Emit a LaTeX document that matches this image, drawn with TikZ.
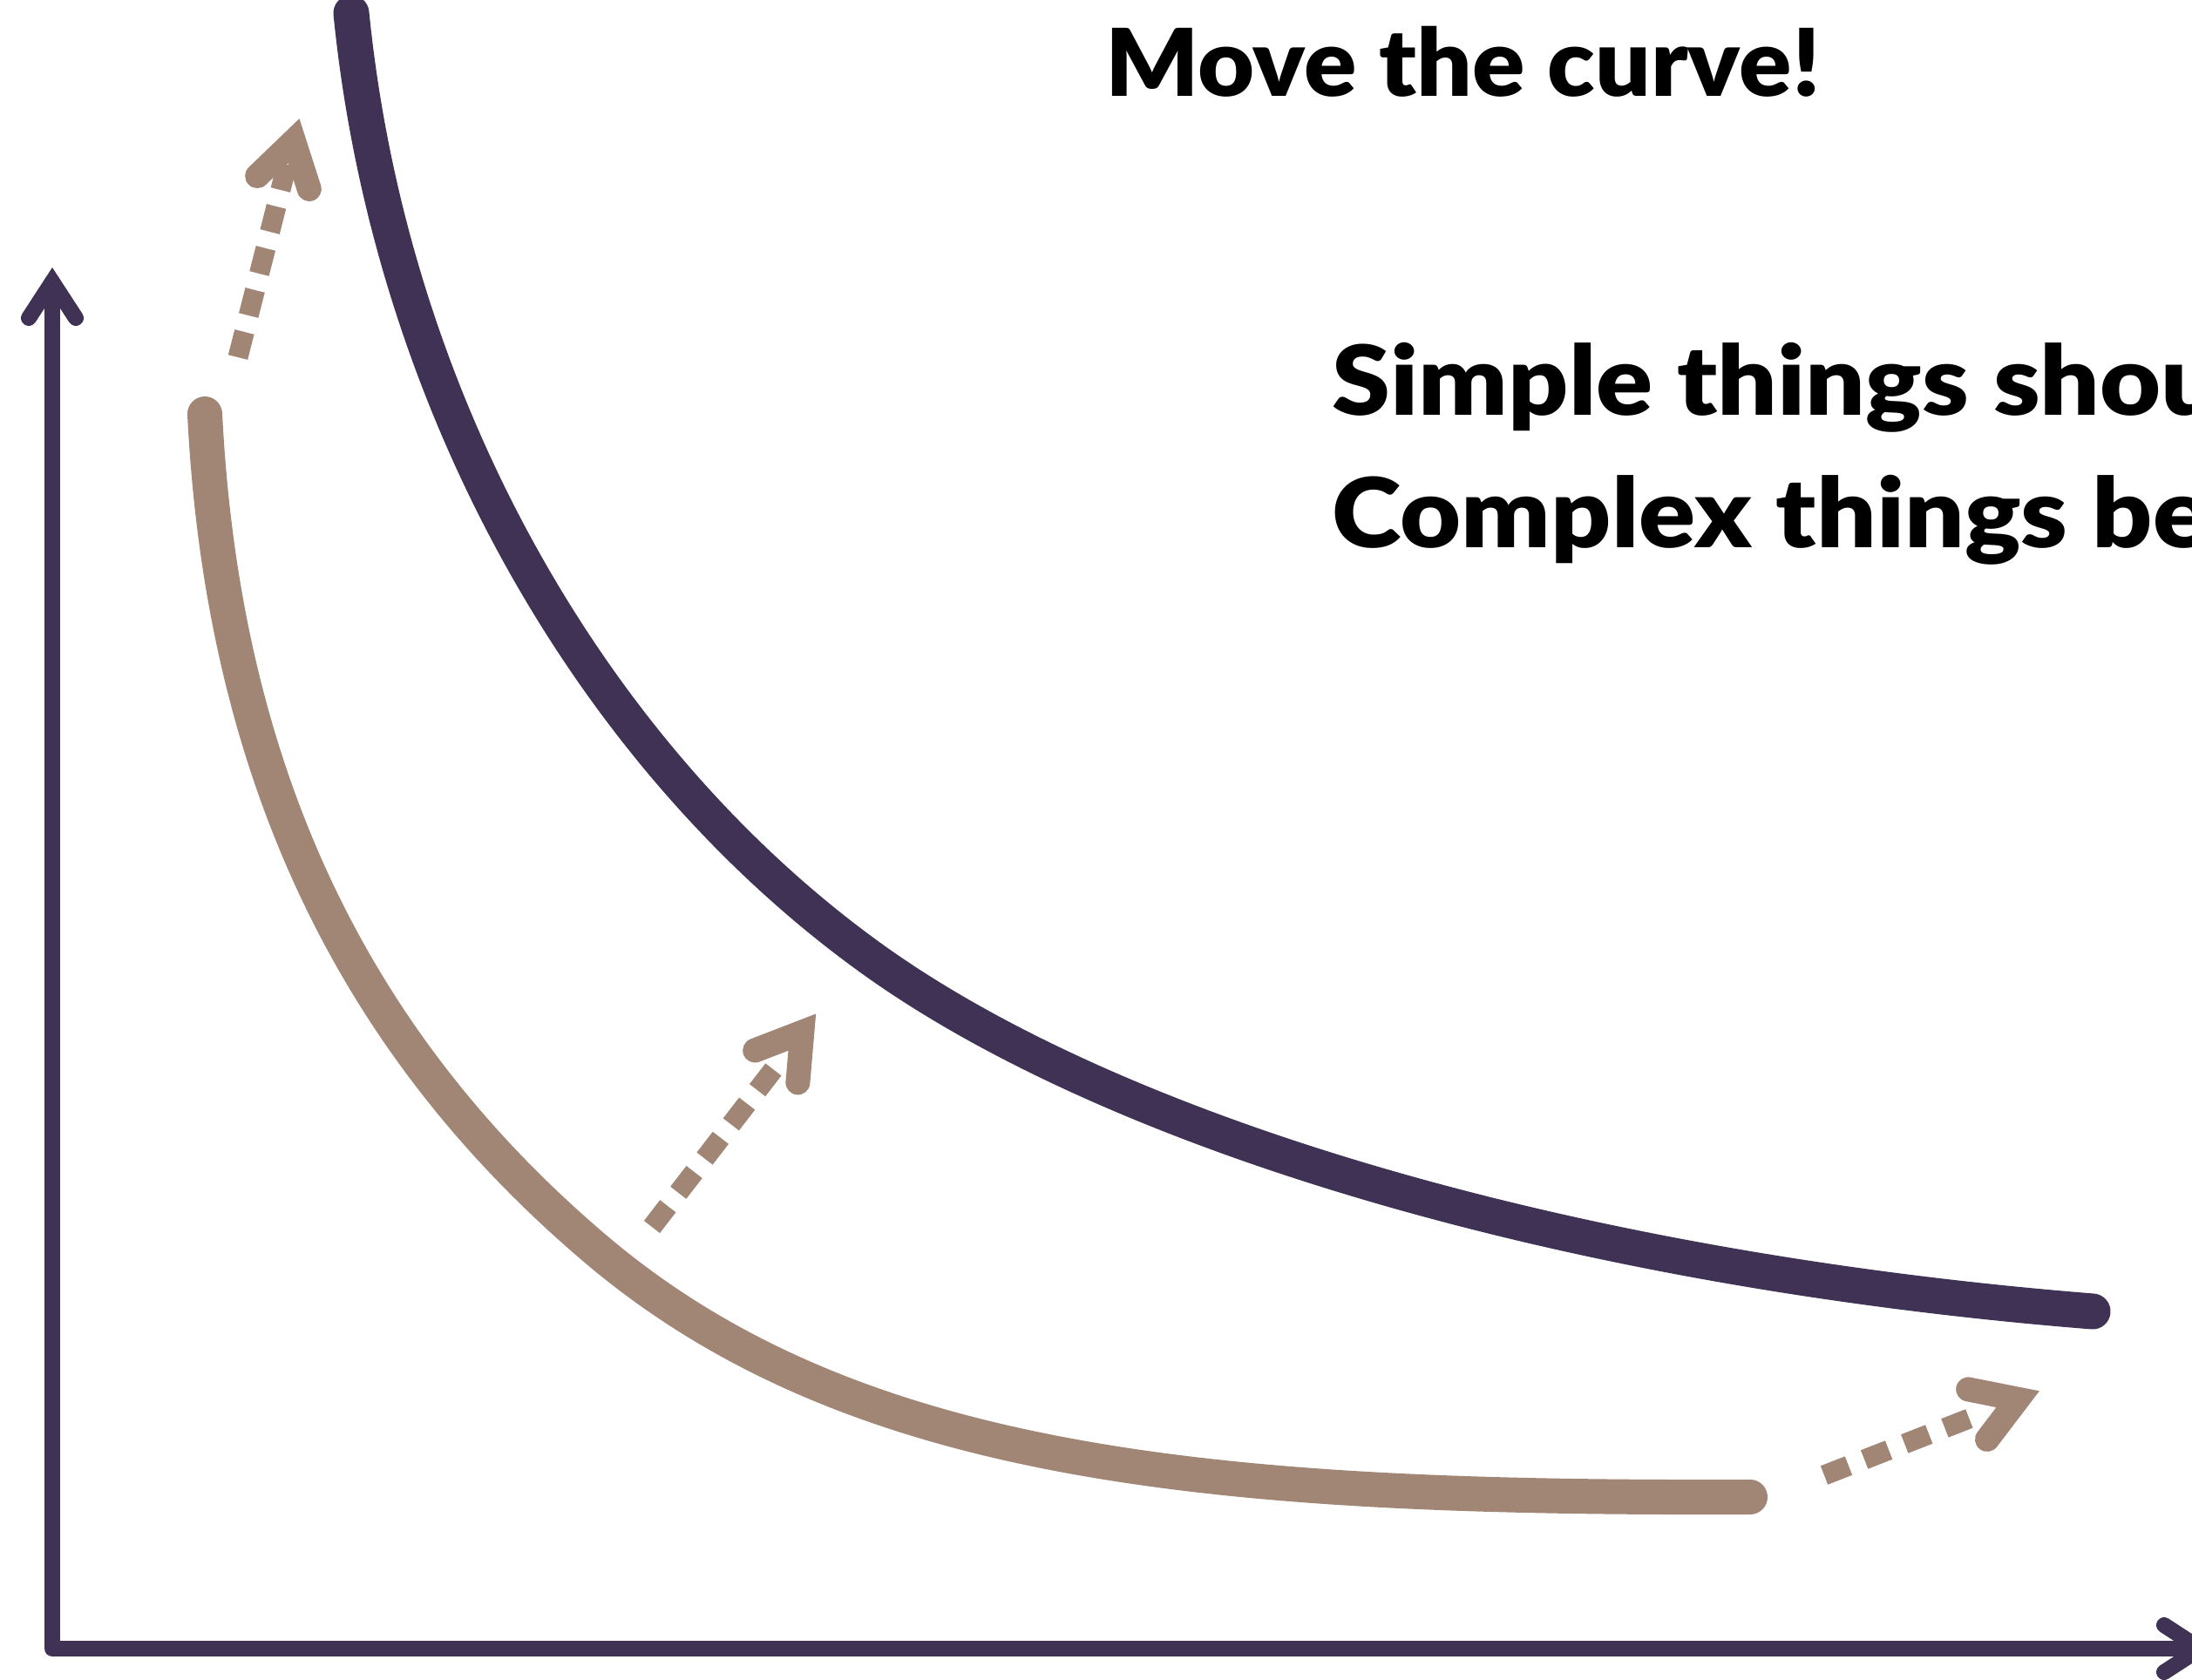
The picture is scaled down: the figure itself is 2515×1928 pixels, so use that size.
\documentclass[tikz,border=0pt]{standalone}
\usepackage{fontspec}
\setmainfont{Lato}
\newfontfamily\headfont{Lato Black}[FakeStretch=1.09]
\newfontfamily\titlefont{Lato Black}[FakeStretch=1.045]
\definecolor{axiscol}{HTML}{3F3255}
\definecolor{browncol}{HTML}{A18676}
\tikzset{
  axisline/.style={draw=axiscol, line width=0.18cm, line cap=round, line join=round},
  axishead/.style={draw=axiscol, line width=0.18cm, line cap=round, line join=miter},
  darkcurve/.style={draw=axiscol, line width=0.41cm, line cap=round},
  lightcurve/.style={draw=browncol, line width=0.40cm, line cap=round},
  dotline/.style={draw=browncol, line width=0.23cm, dash pattern=on 0.3cm off 0.195cm},
  dothead/.style={draw=browncol, line width=0.28cm, line cap=round, line join=miter},
  title/.style={anchor=base west, inner sep=0pt, font=\fontsize{30.5}{36}\titlefont},
  quote/.style={anchor=base west, inner sep=0pt, font=\fontsize{31.5}{43}\headfont}
}
\begin{document}
\begin{tikzpicture}[x=0.01cm,y=-0.01cm]
\useasboundingbox (0,0) rectangle (2515,1928);
\clip (0,0) rectangle (2515,1928);
% axes
\coordinate (yv) at (60,323.5);
\coordinate (corner) at (60,1892);
\coordinate (xv) at (2524.5,1892);
\draw[axisline] (yv) -- (corner) -- (xv);
\draw[axishead] (33,365) -- (yv) -- (87,365);
\draw[axishead] (2483,1865) -- (xv) -- (2483,1919);
% dark curve
\draw[darkcurve] (403,15) .. controls (448,465) and (680,869.6) .. (1000,1100)
  .. controls (1280,1301.6) and (1801,1457) .. (2401,1505);
% light curve
\draw[lightcurve] (235,475) .. controls (257.5,925) and (433,1220.5) .. (683,1433)
  .. controls (983,1688) and (1408,1720) .. (2008,1718);
% dotted arrows
\coordinate (a1s) at (273,410); \coordinate (a1e) at (330,186); \coordinate (a1v) at (337,161.8);
\draw[dotline] (a1s) -- (a1e);
\draw[dothead] (295.2,202) -- (a1v) -- (354.8,217);
\coordinate (a2s) at (748,1408); \coordinate (a2e) at (890,1224); \coordinate (a2v) at (920.3,1184.6);
\draw[dotline] (a2s) -- (a2e);
\draw[dothead] (866.2,1205.5) -- (a2v) -- (915.4,1242.4);
\coordinate (a3s) at (2093,1693); \coordinate (a3e) at (2272,1623); \coordinate (a3v) at (2315.1,1605.7);
\draw[dotline] (a3s) -- (a3e);
\draw[dothead] (2258.2,1594.4) -- (a3v) -- (2280,1651.9);
% texts
\node[title] (ttl) at (1268,111) {Move the curve!};
\node[quote] (q1) at (1528,477) {Simple things should be simple,};
\node[quote] (q2) at (1528,629) {Complex things become possible};
\end{tikzpicture}
\end{document}
